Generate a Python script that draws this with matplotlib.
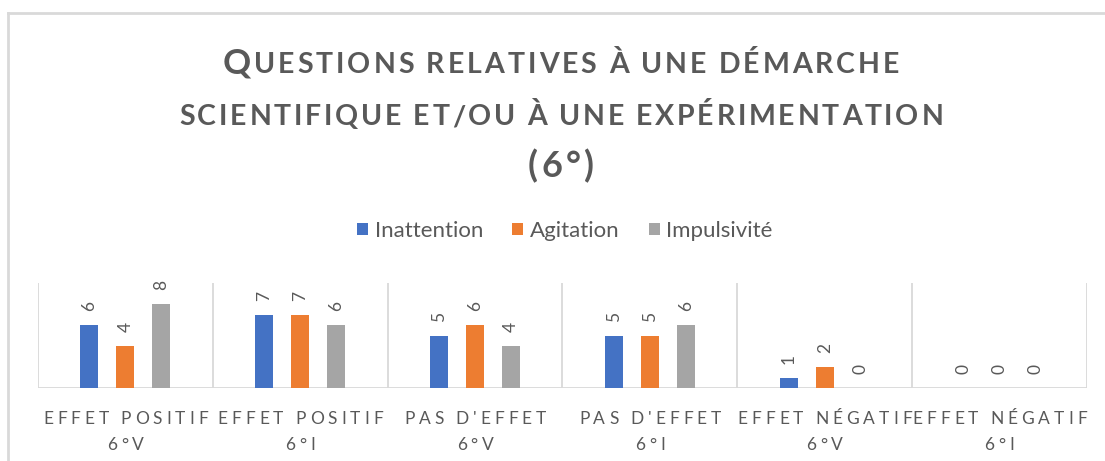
import numpy as np
import matplotlib.pyplot as plt

categories = [("EFFET POSITIF", "6°V"), ("EFFET POSITIF", "6°I"),
              ("PAS D'EFFET", "6°V"), ("PAS D'EFFET", "6°I"),
              ("EFFET NÉGATIF", "6°V"), ("EFFET NÉGATIF", "6°I")]
series = ["Inattention", "Agitation", "Impulsivité"]
inattention = [6, 7, 5, 5, 1, 0]
agitation = [4, 7, 6, 5, 2, 0]
impulsivite = [8, 6, 4, 6, 0, 0]
colors = ["#4472C4", "#ED7D31", "#A5A5A5"]

txt = "#595959"
grid = "#D9D9D9"
plt.rcParams['font.family'] = ['Lato', 'DejaVu Sans']

W, H = 1105, 461
fig = plt.figure(figsize=(W / 100, H / 100), dpi=100)
ax = fig.add_axes([38 / W, (H - 388) / H, (1087 - 38) / W, 105 / H])
renderer = fig.canvas.get_renderer()

x = np.arange(len(categories))
step = 0.206
width = 0.103
for i, (name, vals) in enumerate(zip(series, [inattention, agitation, impulsivite])):
    bars = ax.bar(x + (i - 1) * step, vals, width, color=colors[i], label=name)
    for b, v in zip(bars, vals):
        ax.annotate(str(v), (b.get_x() + b.get_width() / 2, v), xytext=(0, 10),
                    textcoords='offset points', ha='center', va='bottom',
                    rotation=90, fontsize=12.5, color=txt)

ax.set_xlim(-0.5, len(categories) - 0.5)
ax.set_ylim(0, 10)
for b in np.arange(-0.5, len(categories), 1):
    ax.axvline(b, color=grid, lw=1.3, zorder=0)
for s in ax.spines.values():
    s.set_visible(False)
ax.axhline(0, color=grid, lw=1.3, zorder=0)
ax.set_yticks([])
ax.set_xticks([])


def tracked(parts, xc, base, track, weight='normal'):
    # draw text char by char with extra letter spacing, centred on xc (pixels)
    objs = []
    for s, size in parts:
        for ch in s:
            t = fig.text(0, 1 - base / H, ch, fontsize=size, fontweight=weight,
                         color=txt, ha='left', va='baseline')
            if ch == " ":
                w = 0.22 * size * 100 / 72
            else:
                w = t.get_window_extent(renderer).width
            objs.append((t, w))
    total = sum(w for _, w in objs) + track * (len(objs) - 1)
    xpos = xc - total / 2
    for t, w in objs:
        t.set_x(xpos / W)
        xpos += w + track


# category labels
for xi, (l1, l2) in zip(x, categories):
    xc = ax.transData.transform((xi, 0))[0]
    tracked([(l1, 12.5)], xc, 424, 4.0)
    tracked([(l2, 12.5)], xc, 450, 4.0)

leg = fig.legend(loc='center', bbox_to_anchor=(565 / W, 1 - 231 / H), ncol=3, frameon=False,
                 fontsize=16, handlelength=0.5, handleheight=0.5, handletextpad=0.3,
                 columnspacing=1.3, labelcolor=txt)

# chart border (left and top only visible)
fig.add_artist(plt.Line2D([8 / W, 8 / W], [0, 1 - 13 / H], color=grid, lw=2, transform=fig.transFigure))
fig.add_artist(plt.Line2D([8 / W, 1], [1 - 13 / H, 1 - 13 / H], color=grid, lw=2, transform=fig.transFigure))

# title in small caps
tcx = 561
tracked([("Q", 25), ("UESTIONS RELATIVES À UNE DÉMARCHE", 20.5)], tcx, 73, 3.0, 'bold')
tracked([("SCIENTIFIQUE ET/OU À UNE EXPÉRIMENTATION", 20.5)], tcx, 125, 2.8, 'bold')
tracked([("(6°)", 26)], tcx, 177, 3.5, 'bold')

fig.savefig("out.png", dpi=100)
